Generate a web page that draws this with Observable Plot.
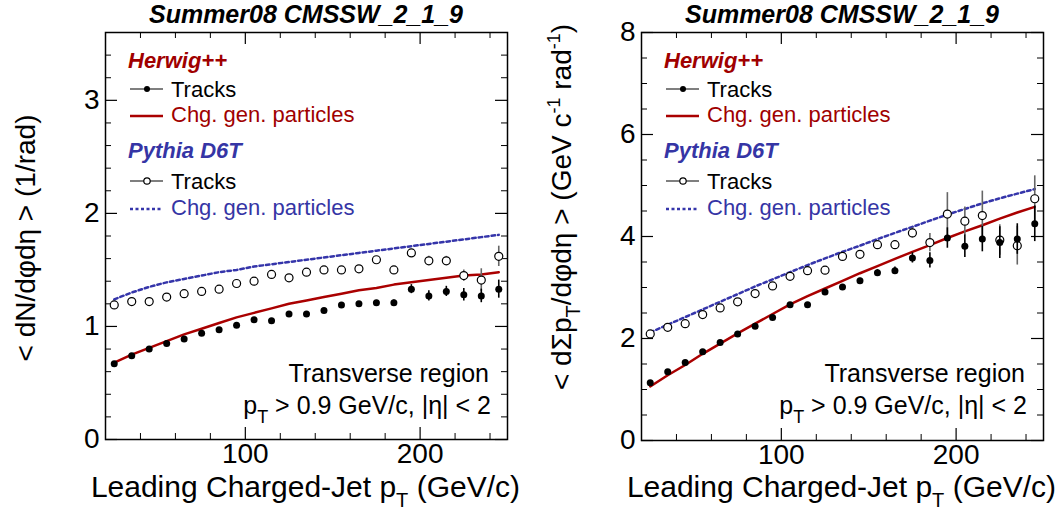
<!DOCTYPE html>
<html><head><meta charset="utf-8">
<script src="https://cdn.jsdelivr.net/npm/d3@7"></script>
<script src="https://cdn.jsdelivr.net/npm/@observablehq/plot@0.6"></script>
<style>
body{margin:0;background:#fff;}
#wrap{display:flex;width:1062px;height:513px;overflow:hidden;}
#wrap svg{display:block;}
</style></head><body><div id="wrap"></div>
<script>
// ---- data ----
const jetPt = [25,35,45,55,65,75,85,95,105,115,125,135,145,155,165,175,185,195,205,215,225,235,245];

// Left panel: < dN/dphideta >
const nchHerwigTracks    = [0.67,0.74,0.80,0.85,0.89,0.94,0.97,1.01,1.06,1.05,1.11,1.11,1.14,1.19,1.20,1.21,1.21,1.33,1.27,1.31,1.28,1.27,1.33];
const nchHerwigTracksErr = [0.01,0.01,0.01,0.01,0.01,0.01,0.01,0.01,0.01,0.01,0.01,0.012,0.014,0.016,0.018,0.02,0.025,0.04,0.045,0.045,0.055,0.06,0.08];
const nchPythiaTracks    = [1.19,1.22,1.22,1.26,1.29,1.31,1.33,1.38,1.40,1.46,1.43,1.48,1.50,1.50,1.51,1.59,1.50,1.65,1.58,1.58,1.45,1.41,1.62];
const nchPythiaTracksErr = [0.01,0.01,0.01,0.01,0.01,0.01,0.01,0.01,0.01,0.012,0.014,0.016,0.018,0.02,0.022,0.025,0.028,0.03,0.04,0.04,0.05,0.1,0.09];
const nchHerwigGen       = [0.68,0.75,0.81,0.87,0.93,0.98,1.03,1.08,1.12,1.16,1.20,1.23,1.26,1.29,1.32,1.34,1.37,1.39,1.41,1.43,1.45,1.46,1.48];
const nchPythiaGen       = [1.24,1.30,1.35,1.39,1.42,1.45,1.48,1.50,1.53,1.55,1.57,1.59,1.61,1.63,1.65,1.67,1.69,1.71,1.73,1.75,1.77,1.79,1.81];

// Right panel: < dSumPt/dphideta >
const ptsumHerwigTracks    = [1.13,1.35,1.53,1.74,1.92,2.09,2.24,2.41,2.66,2.66,2.91,3.01,3.13,3.29,3.33,3.58,3.53,3.97,3.81,3.95,3.88,3.95,4.25];
const ptsumHerwigTracksErr = [0.02,0.02,0.02,0.02,0.02,0.02,0.03,0.03,0.03,0.03,0.04,0.04,0.05,0.06,0.07,0.1,0.15,0.2,0.22,0.25,0.31,0.3,0.35];
const ptsumPythiaTracks    = [2.09,2.22,2.29,2.47,2.60,2.72,2.88,3.03,3.22,3.33,3.34,3.61,3.65,3.84,3.84,4.07,3.88,4.44,4.30,4.41,3.93,3.82,4.74];
const ptsumPythiaTracksErr = [0.02,0.02,0.02,0.02,0.03,0.03,0.03,0.03,0.04,0.04,0.04,0.05,0.05,0.06,0.08,0.1,0.18,0.42,0.28,0.48,0.3,0.38,0.45];
const ptsumHerwigGen       = [1.06,1.28,1.48,1.70,1.90,2.10,2.29,2.48,2.67,2.83,2.98,3.13,3.28,3.42,3.56,3.70,3.83,3.97,4.10,4.22,4.35,4.47,4.58];
const ptsumPythiaGen       = [2.12,2.27,2.42,2.57,2.72,2.87,3.02,3.16,3.30,3.44,3.57,3.70,3.82,3.95,4.07,4.19,4.31,4.43,4.54,4.65,4.75,4.84,4.93];

// ticks
const xMajorTicks = [100, 200];
const xMinorTicks = [40, 60, 80, 120, 140, 160, 180, 220, 240];
const nchYMajor = [0, 1, 2, 3];
const nchYMinor = [0.2,0.4,0.6,0.8,1.2,1.4,1.6,1.8,2.2,2.4,2.6,2.8,3.2,3.4];
const ptsumYMajor = [0, 2, 4, 6, 8];
const ptsumYMinor = [0.5,1,1.5,2.5,3,3.5,4.5,5,5.5,6.5,7,7.5];

const titleText = "Summer08 CMSSW_2_1_9";

// ---- style ----
const FONT = '"Liberation Sans", Arial, Helvetica, sans-serif';
const RED = "#aa0000";
const RED_TEXT = "#a00000";
const BLUE = "#3535aa";
const BLUE_TEXT = "#3535a5";

function panel(cfg) {
  const W = cfg.width, H = 513;
  const mt = 32, mb = cfg.mb, ml = cfg.ml, mr = cfg.mr;
  const fw = W - ml - mr, fh = H - mt - mb;
  const idx = d3.range(jetPt.length);
  const X = i => jetPt[i];
  const svg = Plot.plot({
    width: W, height: H,
    marginTop: mt, marginBottom: mb, marginLeft: ml, marginRight: mr,
    x: {domain: [20, 250]},
    y: {domain: cfg.yDomain},
    style: {fontFamily: FONT, background: "white", color: "black", overflow: "visible"},
    marks: [
      Plot.ruleX(xMinorTicks, {insetTop: fh - 6, stroke: "black", strokeWidth: 1}),
      Plot.ruleX(xMinorTicks, {insetBottom: fh - 6, stroke: "black", strokeWidth: 1}),
      Plot.ruleX(xMajorTicks, {insetTop: fh - 12, stroke: "black", strokeWidth: 1.2}),
      Plot.ruleX(xMajorTicks, {insetBottom: fh - 12, stroke: "black", strokeWidth: 1.2}),
      Plot.ruleY(cfg.yMinor, {insetRight: fw - 6, stroke: "black", strokeWidth: 1}),
      Plot.ruleY(cfg.yMinor, {insetLeft: fw - 6, stroke: "black", strokeWidth: 1}),
      Plot.ruleY(cfg.yMajor, {insetRight: fw - 12, stroke: "black", strokeWidth: 1.2}),
      Plot.ruleY(cfg.yMajor, {insetLeft: fw - 12, stroke: "black", strokeWidth: 1.2}),
      Plot.axisX(xMajorTicks, {tickSize: 0, tickPadding: 4, fontSize: 28, label: null, tickFormat: d => String(d)}),
      Plot.axisY(cfg.yMajor, {tickSize: 0, tickPadding: 6, fontSize: 28, label: null, tickFormat: d => String(d)}),
      Plot.line(idx, {x: X, y: i => cfg.pyGen[i], stroke: BLUE, strokeWidth: 2.5, strokeDasharray: "3.5,3"}),
      Plot.line(idx, {x: X, y: i => cfg.herGen[i], stroke: RED, strokeWidth: 2.5}),
      Plot.ruleX(idx, {x: X, y1: i => cfg.pyTr[i] - cfg.pyErr[i], y2: i => cfg.pyTr[i] + cfg.pyErr[i], stroke: "#666", strokeWidth: 1.6}),
      Plot.dot(idx, {x: X, y: i => cfg.pyTr[i], r: 4, fill: "white", stroke: "black", strokeWidth: 1.2}),
      Plot.ruleX(idx, {x: X, y1: i => cfg.herTr[i] - cfg.herErr[i], y2: i => cfg.herTr[i] + cfg.herErr[i], stroke: "black", strokeWidth: 1.6}),
      Plot.dot(idx, {x: X, y: i => cfg.herTr[i], r: 3.5, fill: "black"}),
      Plot.frame({stroke: "black", strokeWidth: 1.5})
    ]
  });

  const g = d3.select(svg).append("g").attr("font-family", FONT).attr("text-anchor", "start");
  const fx0 = ml, fx1 = W - mr;
  // title
  g.append("text").attr("x", (fx0 + fx1) / 2).attr("y", 23).attr("text-anchor", "middle")
    .attr("font-size", 25).attr("font-weight", "bold").attr("font-style", "italic").text(titleText);

  // legend
  const lx = fx0;
  const hdr = (y, s, c) => g.append("text").attr("x", lx + 23).attr("y", y).attr("font-size", 22)
    .attr("text-anchor", "start").attr("font-weight", "bold").attr("font-style", "italic").attr("fill", c).text(s);
  const ent = (y, s, c) => g.append("text").attr("x", lx + 66).attr("y", y).attr("font-size", 22)
    .attr("text-anchor", "start").attr("fill", c).text(s);
  hdr(68, "Herwig++", RED_TEXT);
  g.append("line").attr("x1", lx + 25).attr("x2", lx + 58).attr("y1", 89).attr("y2", 89).attr("stroke", "#555").attr("stroke-width", 1.5);
  g.append("circle").attr("cx", lx + 42).attr("cy", 89).attr("r", 3).attr("fill", "black");
  ent(97, "Tracks", "black");
  g.append("line").attr("x1", lx + 25).attr("x2", lx + 58).attr("y1", 116).attr("y2", 116).attr("stroke", RED).attr("stroke-width", 2.5);
  ent(122, "Chg. gen. particles", RED_TEXT);
  hdr(158, "Pythia D6T", BLUE_TEXT);
  g.append("line").attr("x1", lx + 25).attr("x2", lx + 58).attr("y1", 181).attr("y2", 181).attr("stroke", "#555").attr("stroke-width", 1.5);
  g.append("circle").attr("cx", lx + 42).attr("cy", 181).attr("r", 3.2).attr("fill", "white").attr("stroke", "black").attr("stroke-width", 1.2);
  ent(189, "Tracks", "black");
  g.append("line").attr("x1", lx + 25).attr("x2", lx + 58).attr("y1", 209).attr("y2", 209).attr("stroke", BLUE).attr("stroke-width", 2.5).attr("stroke-dasharray", "3,2.5");
  ent(215, "Chg. gen. particles", BLUE_TEXT);

  // region text
  g.append("text").attr("x", fx1 - 18).attr("y", 382).attr("text-anchor", "end").attr("font-size", 25).text("Transverse region");
  const t2 = g.append("text").attr("x", fx1 - 16).attr("y", 414).attr("text-anchor", "end").attr("font-size", 25);
  t2.append("tspan").text("p");
  t2.append("tspan").attr("dy", 9).attr("font-size", 18).text("T");
  t2.append("tspan").attr("dy", -9).text(" > 0.9 GeV/c, |η| < 2");

  // x title
  const xt = g.append("text").attr("x", fx1 + 13).attr("y", 497).attr("text-anchor", "end").attr("font-size", 30);
  xt.append("tspan").text("Leading Charged-Jet p");
  xt.append("tspan").attr("dy", 10).attr("font-size", 20).text("T");
  xt.append("tspan").attr("dy", -10).text(" (GeV/c)");

  // y title
  const yt = g.append("text").attr("transform", `translate(${cfg.ytX},${cfg.ytY}) rotate(-90)`)
    .attr("text-anchor", "middle").attr("font-size", 28);
  cfg.ytParts.forEach(p => {
    const ts = yt.append("tspan").text(p.t);
    if (p.dy) ts.attr("dy", p.dy);
    if (p.fs) ts.attr("font-size", p.fs);
  });
  return svg;
}

const wrap = document.getElementById("wrap");
wrap.appendChild(panel({
  width: 531, ml: 105, mr: 24, mb: 74,
  yDomain: [0, 3.6], yMajor: nchYMajor, yMinor: nchYMinor,
  herTr: nchHerwigTracks, herErr: nchHerwigTracksErr,
  pyTr: nchPythiaTracks, pyErr: nchPythiaTracksErr,
  herGen: nchHerwigGen, pyGen: nchPythiaGen,
  ytX: 35, ytY: 238,
  ytParts: [{t: "< dN/dφdη > (1/rad)"}]
}));
wrap.appendChild(panel({
  width: 531, ml: 110, mr: 19, mb: 73,
  yDomain: [0, 8], yMajor: ptsumYMajor, yMinor: ptsumYMinor,
  herTr: ptsumHerwigTracks, herErr: ptsumHerwigTracksErr,
  pyTr: ptsumPythiaTracks, pyErr: ptsumPythiaTracksErr,
  herGen: ptsumHerwigGen, pyGen: ptsumPythiaGen,
  ytX: 40, ytY: 207,
  ytParts: [
    {t: "< dΣp"}, {t: "T", dy: 9, fs: 20}, {t: "/dφdη > (GeV c", dy: -9},
    {t: "-1", dy: -11, fs: 18}, {t: " rad", dy: 11}, {t: "-1", dy: -11, fs: 18}, {t: ")", dy: 11}
  ]
}));
</script>
</body></html>
